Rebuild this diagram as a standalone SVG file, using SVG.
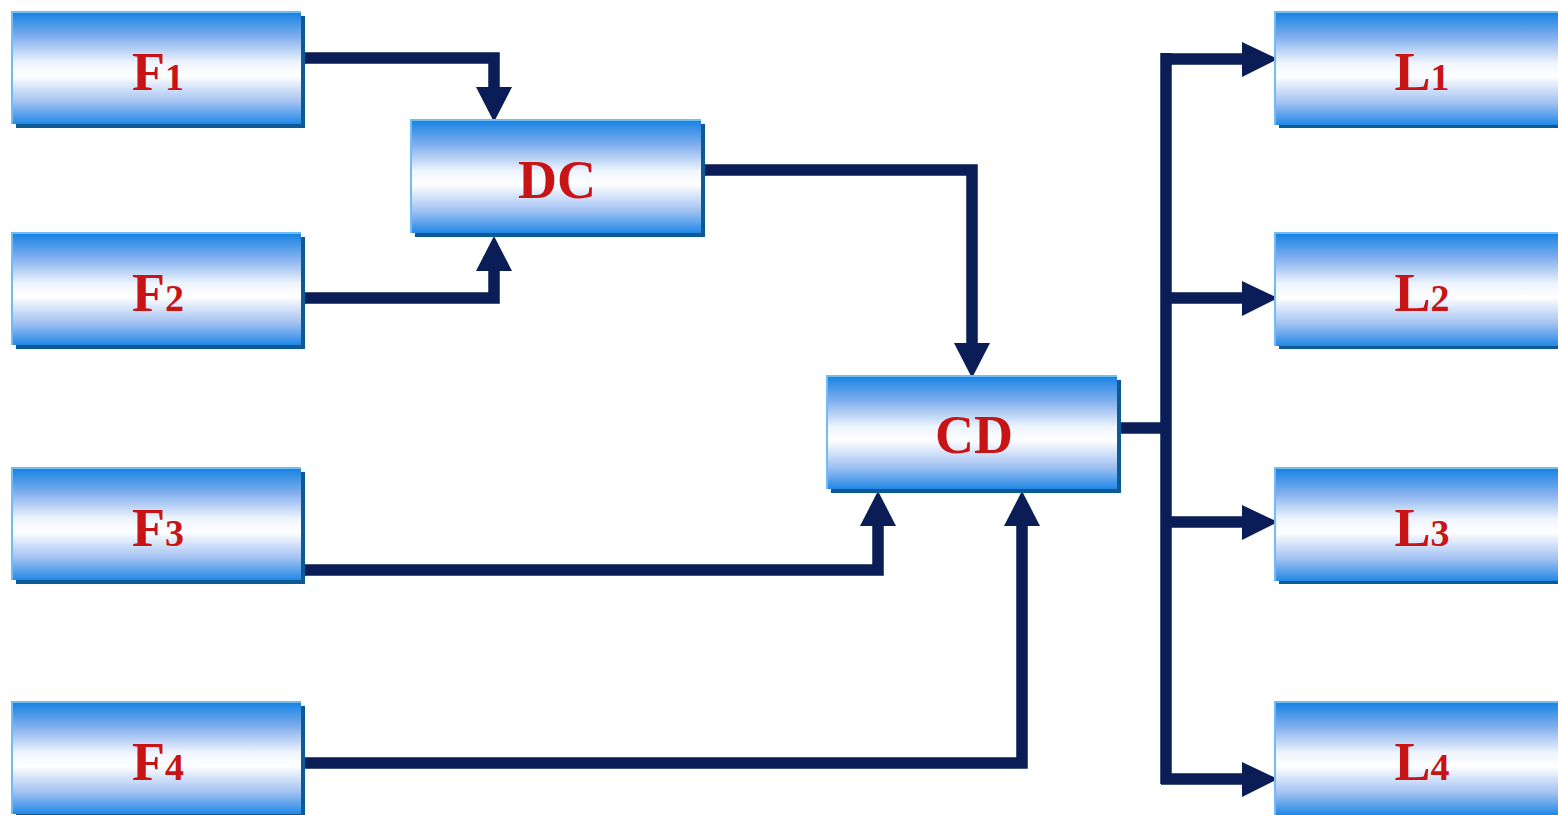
<svg xmlns="http://www.w3.org/2000/svg" width="1558" height="815" viewBox="0 0 1558 815">
<defs>
<linearGradient id="g" x1="0" y1="0" x2="0" y2="1">
<stop offset="0" stop-color="#1482e2"/>
<stop offset="0.22" stop-color="#80aeee"/>
<stop offset="0.45" stop-color="#eef4fd"/>
<stop offset="0.57" stop-color="#ffffff"/>
<stop offset="0.8" stop-color="#a3c2f2"/>
<stop offset="1" stop-color="#2288e6"/>
</linearGradient>
</defs>
<style>
.sh{fill:#0c5a96}
.bx{fill:url(#g)}
.ed{fill:none;stroke:#72bcf2;stroke-width:2}
.lb{font-family:"Liberation Serif","Times New Roman",serif;font-weight:bold;fill:#c81414;text-anchor:middle}
.big{font-size:54px}
.sub{font-size:38px}
.cn{fill:none;stroke:#0a1d57;stroke-width:11.5;stroke-linejoin:miter;stroke-linecap:butt}
.ah{fill:#0a1d57}
</style>
<rect width="1558" height="815" fill="#ffffff"/>

<g id="connectors">
<polyline class="cn" points="301,58 494,58 494,90"/>
<polyline class="cn" points="301,298 494,298 494,268"/>
<polyline class="cn" points="702,170 972,170 972,345"/>
<polyline class="cn" points="301,570 878,570 878,524"/>
<polyline class="cn" points="301,763 1022,763 1022,524"/>
<polyline class="cn" points="1117,428 1166,428"/>
<polyline class="cn" points="1166,53 1166,784"/>
<polyline class="cn" points="1161,59 1244,59"/>
<polyline class="cn" points="1161,298 1244,298"/>
<polyline class="cn" points="1161,522 1244,522"/>
<polyline class="cn" points="1161,779 1244,779"/>
<path class="ah" d="M476,87 L512,87 L494,122 Z"/>
<path class="ah" d="M476,271 L512,271 L494,236 Z"/>
<path class="ah" d="M954,343 L990,343 L972,378 Z"/>
<path class="ah" d="M860,526 L896,526 L878,491 Z"/>
<path class="ah" d="M1004,526 L1040,526 L1022,491 Z"/>
<path class="ah" d="M1242,42 L1242,77 L1278,59 Z"/>
<path class="ah" d="M1242,281 L1242,316 L1278,298 Z"/>
<path class="ah" d="M1242,505 L1242,540 L1278,522 Z"/>
<path class="ah" d="M1242,762 L1242,797 L1278,779 Z"/>
</g>

<g id="F1">
<rect class="sh" x="16" y="16" width="289" height="112"/>
<rect class="bx" x="12" y="12" width="289" height="112"/>
<polyline class="ed" points="12,124 12,12 301,12"/>
<text class="lb big" x="158" y="90">F<tspan class="sub">1</tspan></text>
</g>
<g id="F2">
<rect class="sh" x="16" y="237" width="289" height="112"/>
<rect class="bx" x="12" y="233" width="289" height="112"/>
<polyline class="ed" points="12,345 12,233 301,233"/>
<text class="lb big" x="158" y="311">F<tspan class="sub">2</tspan></text>
</g>
<g id="F3">
<rect class="sh" x="16" y="472" width="289" height="112"/>
<rect class="bx" x="12" y="468" width="289" height="112"/>
<polyline class="ed" points="12,580 12,468 301,468"/>
<text class="lb big" x="158" y="546">F<tspan class="sub">3</tspan></text>
</g>
<g id="F4">
<rect class="sh" x="16" y="706" width="289" height="112"/>
<rect class="bx" x="12" y="702" width="289" height="112"/>
<polyline class="ed" points="12,814 12,702 301,702"/>
<text class="lb big" x="158" y="780">F<tspan class="sub">4</tspan></text>
</g>
<g id="DC">
<rect class="sh" x="415" y="124" width="290" height="113"/>
<rect class="bx" x="411" y="120" width="290" height="113"/>
<polyline class="ed" points="411,233 411,120 701,120"/>
<text class="lb big" x="557" y="198">DC</text>
</g>
<g id="CD">
<rect class="sh" x="831" y="380" width="290" height="113"/>
<rect class="bx" x="827" y="376" width="290" height="113"/>
<polyline class="ed" points="827,489 827,376 1117,376"/>
<text class="lb big" x="974" y="453">CD</text>
</g>
<g id="L1">
<rect class="sh" x="1279" y="16" width="290" height="112"/>
<rect class="bx" x="1275" y="12" width="290" height="113"/>
<polyline class="ed" points="1275,125 1275,12 1565,12"/>
<text class="lb big" x="1422" y="90">L<tspan class="sub">1</tspan></text>
</g>
<g id="L2">
<rect class="sh" x="1279" y="237" width="290" height="112"/>
<rect class="bx" x="1275" y="233" width="290" height="113"/>
<polyline class="ed" points="1275,346 1275,233 1565,233"/>
<text class="lb big" x="1422" y="311">L<tspan class="sub">2</tspan></text>
</g>
<g id="L3">
<rect class="sh" x="1279" y="472" width="290" height="112"/>
<rect class="bx" x="1275" y="468" width="290" height="113"/>
<polyline class="ed" points="1275,581 1275,468 1565,468"/>
<text class="lb big" x="1422" y="546">L<tspan class="sub">3</tspan></text>
</g>
<g id="L4">
<rect class="sh" x="1279" y="706" width="290" height="112"/>
<rect class="bx" x="1275" y="702" width="290" height="113"/>
<polyline class="ed" points="1275,815 1275,702 1565,702"/>
<text class="lb big" x="1422" y="780">L<tspan class="sub">4</tspan></text>
</g>
</svg>
